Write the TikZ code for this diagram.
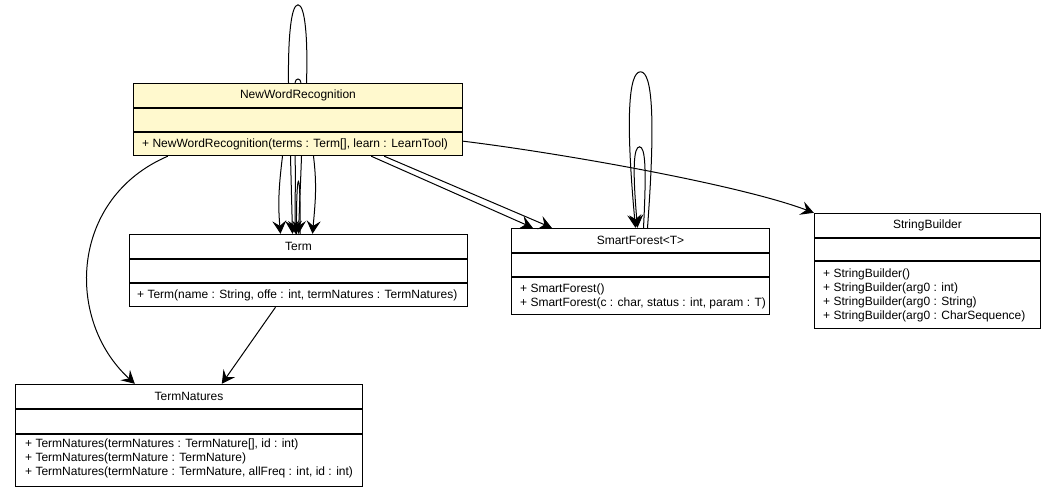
\documentclass[tikz,border=0pt]{standalone}
\usepackage{fontspec}
\newfontfamily\umlfont{Liberation Sans}
\usetikzlibrary{arrows.meta,fit,calc}
\definecolor{nwrfill}{RGB}{255,249,206}
\begin{document}
\begin{tikzpicture}[x=1pt,y=1pt,
  uml/.style={font=\umlfont\fontsize{12pt}{14pt}\selectfont},
  cpart/.style={draw=black, line width=1pt, anchor=north west, inner sep=0pt,
                minimum width=#1, uml},
  optext/.style={anchor=west, align=left, inner sep=0pt, uml},
  dep/.style={draw=black, line width=1pt,
              -{Stealth[length=13pt,width=14pt,inset=5pt]}},
  loopline/.style={draw=black, line width=1pt},
]
\useasboundingbox (0,0) rectangle (1055,-495);

% ---- NewWordRecognition ----
\node[cpart=329pt, minimum height=24pt, fill=nwrfill] (nwrT) at (133,-83) {NewWordRecognition};
\node[cpart=329pt, minimum height=23pt, fill=nwrfill] (nwrA) at (nwrT.south west) {};
\node[cpart=329pt, minimum height=23pt, fill=nwrfill] (nwrO) at (nwrA.south west) {};
\node[optext] (nwrOt) at ([xshift=9pt]nwrO.west) {+ NewWordRecognition(terms : Term[], learn : LearnTool)};
\node[fit=(nwrT)(nwrO), inner sep=0pt] (nwr) {};

% ---- Term ----
\node[cpart=338pt, minimum height=24pt] (termT) at (129,-234) {Term};
\node[cpart=338pt, minimum height=23pt] (termA) at (termT.south west) {};
\node[cpart=338pt, minimum height=23pt] (termO) at (termA.south west) {};
\node[optext] (termOt) at ([xshift=8pt]termO.west) {+ Term(name : String, offe : int, termNatures : TermNatures)};
\node[fit=(termT)(termO), inner sep=0pt] (term) {};

% ---- TermNatures ----
\node[cpart=347pt, minimum height=24pt] (tnT) at (15,-384) {TermNatures};
\node[cpart=347pt, minimum height=24pt] (tnA) at (tnT.south west) {};
\node[cpart=347pt, minimum height=52pt] (tnO) at (tnA.south west) {};
\node[optext] (tnOt) at ([xshift=10pt,yshift=2pt]tnO.west) {+ TermNatures(termNatures : TermNature[], id : int)\\
+ TermNatures(termNature : TermNature)\\
+ TermNatures(termNature : TermNature, allFreq : int, id : int)};
\node[fit=(tnT)(tnO), inner sep=0pt] (tn) {};

% ---- SmartForest<T> ----
\node[cpart=258pt, minimum height=24pt] (sfT) at (511,-228) {SmartForest<T>};
\node[cpart=258pt, minimum height=23pt] (sfA) at (sfT.south west) {};
\node[cpart=258pt, minimum height=37pt] (sfO) at (sfA.south west) {};
\node[optext] (sfOt) at ([xshift=9pt]sfO.west) {+ SmartForest()\\
+ SmartForest(c : char, status : int, param : T)};
\node[fit=(sfT)(sfO), inner sep=0pt] (sf) {};

% ---- StringBuilder ----
\node[cpart=226pt, minimum height=24pt] (sbT) at (814,-213) {StringBuilder};
\node[cpart=226pt, minimum height=22pt] (sbA) at (sbT.south west) {};
\node[cpart=226pt, minimum height=67pt] (sbO) at (sbA.south west) {};
\node[optext] (sbOt) at ([xshift=9pt]sbO.west) {+ StringBuilder()\\
+ StringBuilder(arg0 : int)\\
+ StringBuilder(arg0 : String)\\
+ StringBuilder(arg0 : CharSequence)};
\node[fit=(sbT)(sbO), inner sep=0pt] (sb) {};

% ---- self associations on NewWordRecognition ----
\draw[loopline] ([xshift=8.5pt]nwr.north)
  .. controls ($(nwr.north)+(10,45)$) and ($(nwr.north)+(7,78)$) .. ($(nwr.north)+(0,78)$)
  .. controls ($(nwr.north)+(-7,78)$) and ($(nwr.north)+(-10,45)$) .. ([xshift=-9.5pt]nwr.north);
\draw[loopline] ([xshift=-3pt]nwr.north)
  .. controls ($(nwr.north)+(-2.5,5)$) and ($(nwr.north)+(2.5,5)$) .. ([xshift=3pt]nwr.north);

% ---- NewWordRecognition -> Term ----
\draw[dep] ([xshift=-15.5pt]nwr.south) to[out=-97,in=95] ([xshift=-18pt]term.north);
\draw[dep] ([xshift=-7.5pt]nwr.south) -- ([xshift=-6pt]term.north);
\draw[dep] ([xshift=-3pt]nwr.south) to[out=-88,in=92] ([xshift=-3pt]term.north);
\draw[loopline] ([xshift=-2pt]term.north)
  .. controls ($(term.north)+(-2.5,70)$) and ($(term.north)+(2.5,70)$) .. ([xshift=1.5pt]term.north);
\draw[dep] ([xshift=3.5pt]nwr.south) to[out=-92,in=88] ([xshift=0pt]term.north);
\draw[dep] ([xshift=15.5pt]nwr.south) to[out=-83,in=85] ([xshift=14pt]term.north);

% ---- NewWordRecognition -> TermNatures ----
\draw[dep] ([xshift=35pt]nwr.south west)
  .. controls ($(nwr.south west)+(-63,-42)$) and ($(tn.north west)+(50,64)$) .. ([xshift=120pt]tn.north west);

% ---- Term -> TermNatures ----
\draw[dep] ([xshift=-23pt]term.south) -- ([xshift=207pt]tn.north west);

% ---- NewWordRecognition -> SmartForest ----
\draw[dep] ([xshift=-92pt]nwr.south east) -- ([xshift=22pt]sf.north west);
\draw[dep] ([xshift=-79pt]nwr.south east) -- ([xshift=41pt]sf.north west);

% ---- NewWordRecognition -> StringBuilder ----
\draw[dep] ([yshift=15pt]nwr.south east)
  .. controls ($(nwr.south east)+(98,3)$) and ($(sb.north west)+(-74,28)$) .. (sb.north west);

% ---- self associations on SmartForest ----
\draw[dep] ([xshift=7pt]sf.north)
  .. controls ($(sf.north)+(15,108)$) and ($(sf.north)+(12,156)$) .. ($(sf.north)+(0,156)$)
  .. controls ($(sf.north)+(-12,156)$) and ($(sf.north)+(-15,108)$) .. ([xshift=-5pt]sf.north);
\draw[dep] ([xshift=3pt]sf.north)
  .. controls ($(sf.north)+(6,58)$) and ($(sf.north)+(5,81)$) .. ($(sf.north)+(-1,81)$)
  .. controls ($(sf.north)+(-7,81)$) and ($(sf.north)+(-8,58)$) .. ([xshift=-3pt]sf.north);
\end{tikzpicture}
\end{document}
